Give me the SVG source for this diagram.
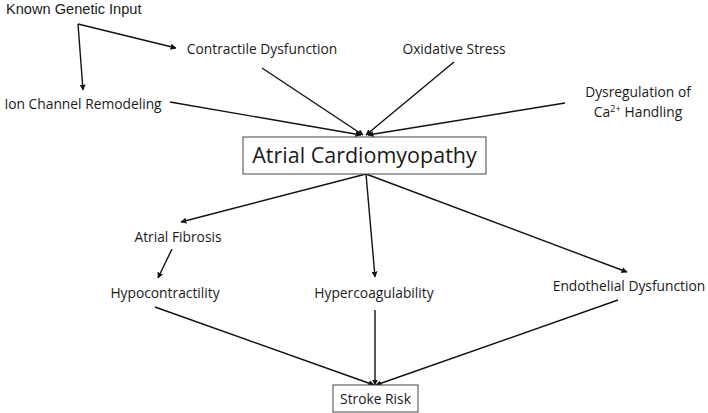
<svg xmlns="http://www.w3.org/2000/svg" width="708" height="413" viewBox="0 0 708 413">
<style>
text{font-family:"Open Sans","Noto Sans",sans-serif;font-size:13.8px;fill:#1a1a1a}
.ar{font-family:"Liberation Sans",Arial,sans-serif;font-size:14.6px}
.big{font-size:21.5px}
.c{stroke:#111;stroke-width:1.4;fill:none;marker-end:url(#ah)}
.box{fill:#fff;stroke:#444;stroke-width:1}
</style>
<defs>
<marker id="ah" viewBox="0 0 10 10" refX="9" refY="5" markerWidth="6" markerHeight="6" markerUnits="userSpaceOnUse" orient="auto">
<path d="M0,0L10,5L0,10z" fill="#111"/>
</marker>
</defs>
<rect width="708" height="413" fill="#fff"/>
<g id="connectors">
<line class="c" x1="78" y1="24" x2="176" y2="48"/>
<line class="c" x1="78" y1="24" x2="83" y2="90"/>
<line class="c" x1="262" y1="68" x2="363" y2="135"/>
<line class="c" x1="454" y1="62" x2="366" y2="135"/>
<line class="c" x1="170" y1="102" x2="361" y2="135"/>
<line class="c" x1="565" y1="103" x2="368" y2="135"/>
<line class="c" x1="366" y1="174" x2="181" y2="222"/>
<line class="c" x1="366" y1="174" x2="375" y2="277"/>
<line class="c" x1="366" y1="174" x2="627" y2="272"/>
<line class="c" x1="172" y1="249" x2="158" y2="278"/>
<line class="c" x1="155" y1="307" x2="374" y2="385"/>
<line class="c" x1="375" y1="310" x2="375" y2="385"/>
<line class="c" x1="618" y1="300" x2="376" y2="385"/>
</g>
<g id="known-genetic-input"><text class="ar" x="6" y="14">Known Genetic Input</text></g>
<g id="contractile-dysfunction"><text x="262" y="54" text-anchor="middle">Contractile Dysfunction</text></g>
<g id="oxidative-stress"><text x="454" y="54" text-anchor="middle">Oxidative Stress</text></g>
<g id="ion-channel-remodeling"><text x="83" y="109" text-anchor="middle">Ion Channel Remodeling</text></g>
<g id="dysregulation"><text x="638" y="97" text-anchor="middle">Dysregulation of</text><text x="638" y="117" text-anchor="middle">Ca<tspan font-size="9.5" dy="-5">2+</tspan><tspan dy="5"> Handling</tspan></text></g>
<g id="atrial-cardiomyopathy"><rect class="box" x="243" y="137" width="243" height="37"/><text class="big" x="364.5" y="163" text-anchor="middle">Atrial Cardiomyopathy</text></g>
<g id="atrial-fibrosis"><text x="178" y="242" text-anchor="middle">Atrial Fibrosis</text></g>
<g id="hypocontractility"><text x="165" y="298" text-anchor="middle">Hypocontractility</text></g>
<g id="hypercoagulability"><text x="374" y="298" text-anchor="middle">Hypercoagulability</text></g>
<g id="endothelial-dysfunction"><text x="629" y="291" text-anchor="middle">Endothelial Dysfunction</text></g>
<g id="stroke-risk"><rect class="box" x="333" y="385" width="85" height="27"/><text x="375.5" y="404" text-anchor="middle">Stroke Risk</text></g>
</svg>
